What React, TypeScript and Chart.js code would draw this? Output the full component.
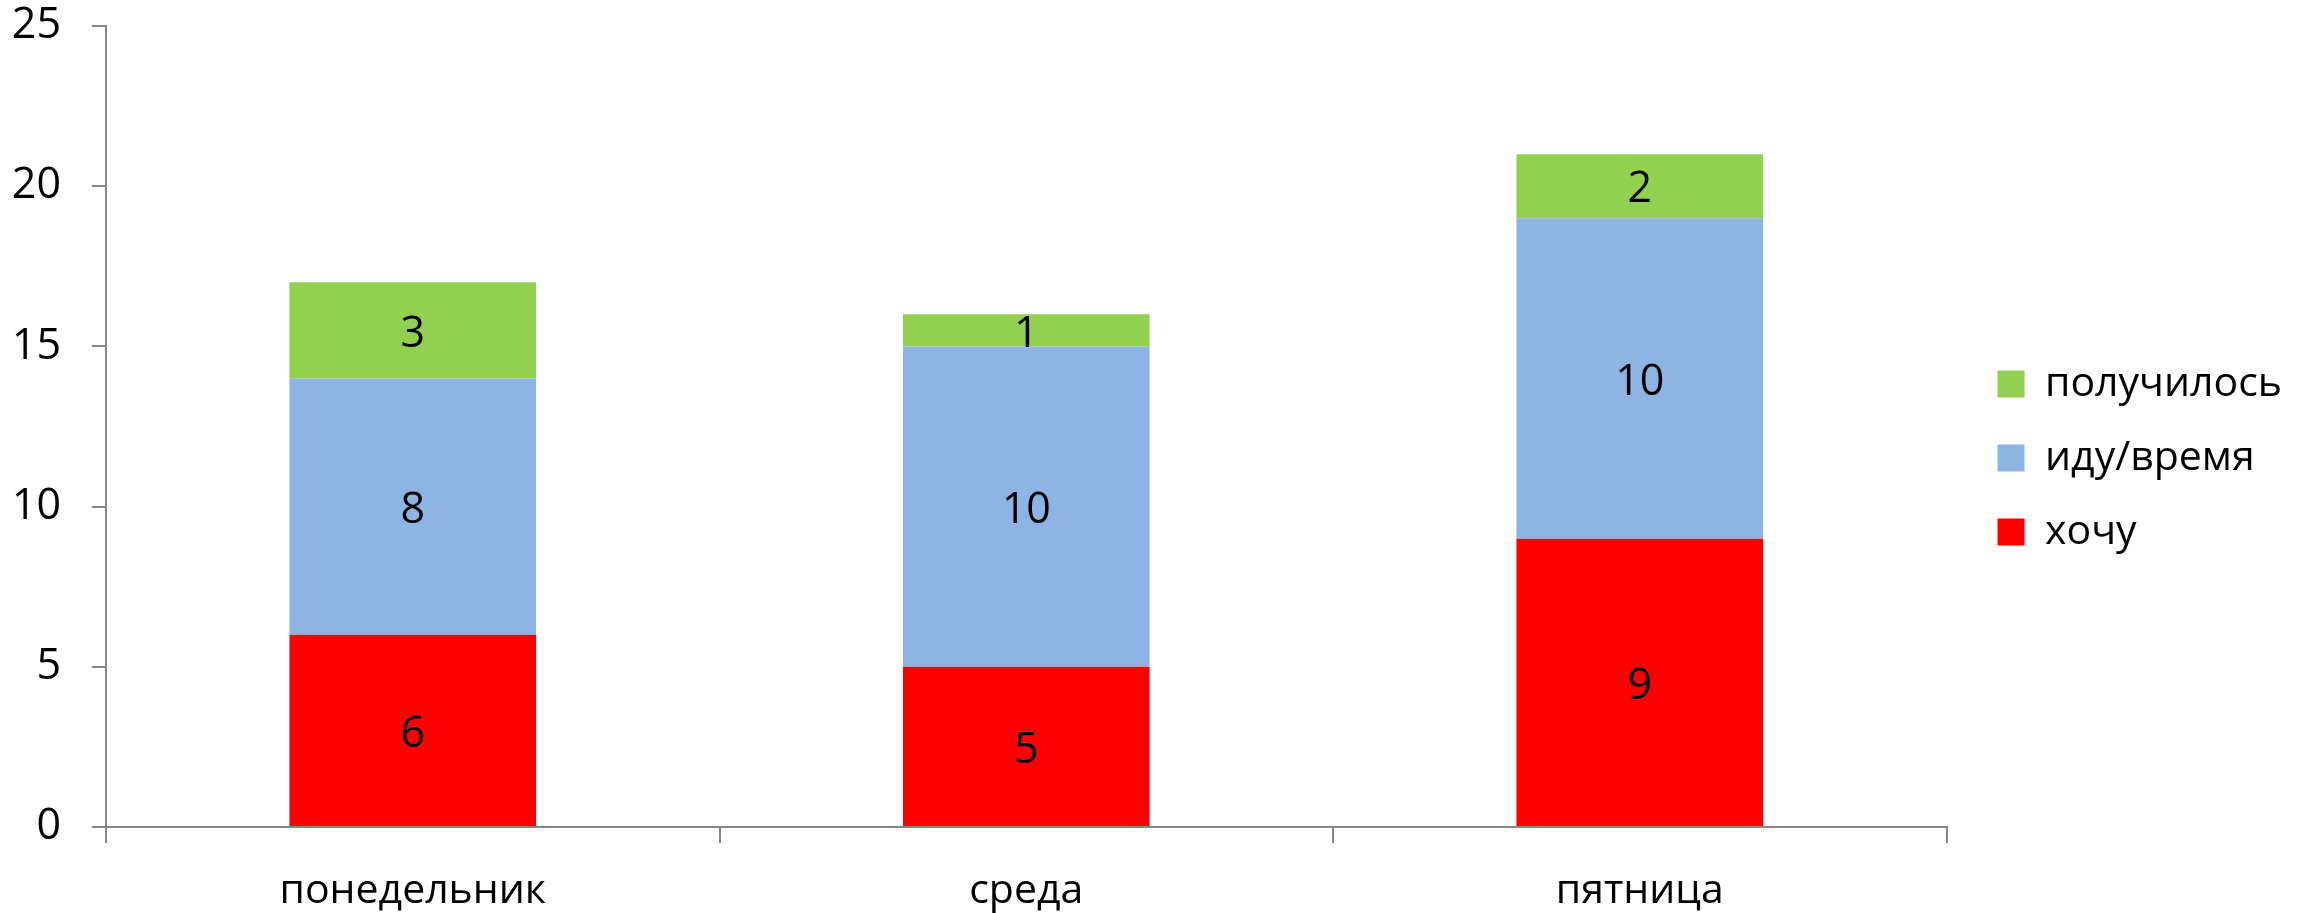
import React, { useEffect, useRef } from "react";
import { Chart, registerables } from "chart.js";

Chart.register(...registerables);

const categories = ["понедельник", "среда", "пятница"];
const seriesNames = ["хочу", "иду/время", "получилось"];
const wantValues = [6, 5, 9];
const goingValues = [8, 10, 10];
const doneValues = [3, 1, 2];
const seriesColors = ["#FF0000", "#8EB4E3", "#92D050"];
const yMin = 0;
const yMax = 25;
const yStep = 5;

const FONT = "'Open Sans', 'Noto Sans', sans-serif";
const FS = 41;
const NUM_FS = 43;

const valueLabels = {
  id: "valueLabels",
  afterDatasetsDraw(chart: any) {
    const ctx = chart.ctx;
    ctx.save();
    ctx.font = `${NUM_FS}px ${FONT}`;
    ctx.fillStyle = "#000000";
    ctx.textAlign = "center";
    ctx.textBaseline = "middle";
    chart.data.datasets.forEach((ds: any, di: number) => {
      const meta = chart.getDatasetMeta(di);
      meta.data.forEach((el: any, i: number) => {
        const v = ds.data[i];
        const p = el.getProps(["x", "y", "base"], true);
        ctx.fillText(String(v), p.x, (p.y + p.base) / 2 + 4);
      });
    });
    ctx.restore();
  },
};

export default function App() {
  const ref = useRef<HTMLCanvasElement | null>(null);
  useEffect(() => {
    if (!ref.current) return;
    const values = [wantValues, goingValues, doneValues];
    const chart = new Chart(ref.current, {
      type: "bar",
      data: {
        labels: categories,
        datasets: seriesNames.map((name, i) => ({
          label: name,
          data: values[i],
          backgroundColor: seriesColors[i],
          borderWidth: 0,
          barPercentage: 0.402,
          categoryPercentage: 1,
        })),
      },
      plugins: [valueLabels],
      options: {
        animation: false,
        responsive: false,
        devicePixelRatio: 1,
        layout: { padding: { top: 3, left: 0, right: 8, bottom: 0 } },
        plugins: {
          tooltip: { enabled: false },
          legend: {
            position: "right",
            reverse: true,
            labels: {
              boxWidth: 27,
              boxHeight: 27,
              padding: 33,
              color: "#000000",
              font: { family: FONT, size: FS },
            },
          },
        },
        scales: {
          x: {
            stacked: true,
            offset: true,
            grid: {
              offset: true,
              drawOnChartArea: false,
              drawTicks: true,
              tickLength: 16,
              color: "#868686",
              lineWidth: 2,
            },
            border: { display: true, color: "#868686", width: 2 },
            ticks: {
              color: "#000000",
              font: { family: FONT, size: FS },
              padding: 24,
              maxRotation: 0,
            },
            afterFit(scale: any) {
              scale.height = 86;
              scale.paddingLeft = 0;
              scale.paddingRight = 0;
            },
          },
          y: {
            stacked: true,
            min: yMin,
            max: yMax,
            grid: {
              drawOnChartArea: false,
              drawTicks: true,
              tickLength: 14,
              color: "#868686",
              lineWidth: 2,
            },
            border: { display: true, color: "#868686", width: 2 },
            ticks: {
              stepSize: yStep,
              color: "#000000",
              font: { family: FONT, size: NUM_FS },
              padding: 31,
            },
            afterFit(scale: any) {
              scale.width = 106;
              scale.paddingTop = 26;
              scale.paddingBottom = 0;
            },
          },
          spacer: {
            type: "linear",
            position: "right",
            display: true,
            grid: { display: false },
            border: { display: false },
            ticks: { display: false },
            afterFit(scale: any) {
              scale.width = 18;
            },
          },
        },
      },
    } as any);
    return () => chart.destroy();
  }, []);
  return (
    <div style={{ position: "absolute", left: 0, top: 0, width: 2300, height: 913 }}>
      <canvas ref={ref} width={2300} height={913} />
    </div>
  );
}
